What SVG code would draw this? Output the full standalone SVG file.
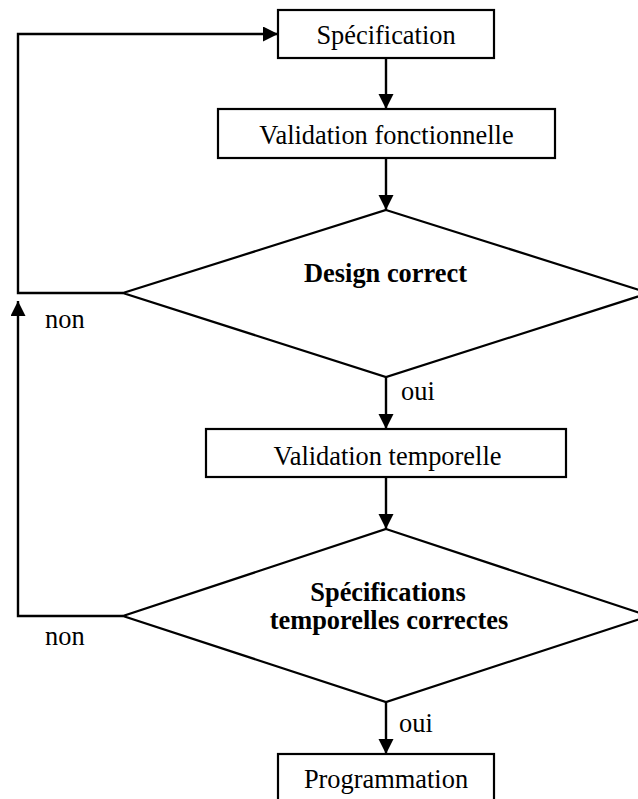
<svg xmlns="http://www.w3.org/2000/svg" width="638" height="799" viewBox="0 0 638 799">
  <style>
    .box { fill: #ffffff; stroke: #000000; stroke-width: 2.2; }
    .line { fill: none; stroke: #000000; stroke-width: 2.4; }
    .t { font-family: "Liberation Serif", "Times New Roman", serif; font-size: 26.4px; fill: #000000; }
    .c { text-anchor: middle; }
    .b { font-weight: bold; }
  </style>
  <defs>
    <marker id="arrow" markerUnits="userSpaceOnUse" markerWidth="16" markerHeight="16" refX="15" refY="7.5" orient="auto">
      <path d="M0,0 L15,7.5 L0,15 Z" fill="#000000"/>
    </marker>
  </defs>
  <rect width="638" height="799" fill="#ffffff"/>

  <g id="connectors">
    <line class="line" x1="386" y1="58" x2="386" y2="109" marker-end="url(#arrow)"/>
    <line class="line" x1="386" y1="158" x2="386" y2="210" marker-end="url(#arrow)"/>
    <line class="line" x1="386" y1="377" x2="386" y2="429" marker-end="url(#arrow)"/>
    <line class="line" x1="386" y1="477" x2="386" y2="529" marker-end="url(#arrow)"/>
    <line class="line" x1="386" y1="702" x2="386" y2="754" marker-end="url(#arrow)"/>
    <polyline class="line" points="123,293 18,293 18,34 278,34" marker-end="url(#arrow)"/>
    <polyline class="line" points="123,616 18,616 18,301" marker-end="url(#arrow)"/>
    <text class="t" x="45" y="328">non</text>
    <text class="t" x="45" y="645">non</text>
    <text class="t" x="401" y="400">oui</text>
    <text class="t" x="399" y="732">oui</text>
  </g>

  <g id="specification">
    <rect class="box" x="278" y="10" width="216" height="48"/>
    <text class="t c" x="386" y="44">Spécification</text>
  </g>

  <g id="validation-fonctionnelle">
    <rect class="box" x="218" y="109" width="337" height="49"/>
    <text class="t c" x="386.5" y="144">Validation fonctionnelle</text>
  </g>

  <g id="design-correct">
    <polygon class="box" points="386,210 649,293 386,377 123,293"/>
    <text class="t c b" x="385.5" y="282">Design correct</text>
  </g>

  <g id="validation-temporelle">
    <rect class="box" x="206" y="429" width="360" height="48"/>
    <text class="t c" x="387.5" y="465">Validation temporelle</text>
  </g>

  <g id="specifications-temporelles">
    <polygon class="box" points="386,529 649,616 386,702 123,616"/>
    <text class="t c b" x="388" y="601">Spécifications</text>
    <text class="t c b" x="389" y="629">temporelles correctes</text>
  </g>

  <g id="programmation">
    <rect class="box" x="278" y="754" width="216" height="48"/>
    <text class="t c" x="386" y="788">Programmation</text>
  </g>
</svg>
